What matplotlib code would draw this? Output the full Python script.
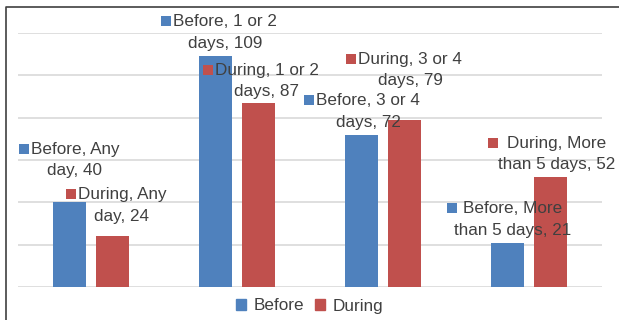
import matplotlib.pyplot as plt
from matplotlib.patches import Patch, Rectangle
from matplotlib.lines import Line2D
import numpy as np

plt.rcParams['font.family'] = ['Liberation Sans', 'DejaVu Sans']

categories = ["Any day", "1 or 2 days", "3 or 4 days", "More than 5 days"]
series = ["Before", "During"]
before = [40, 109, 72, 21]
during = [24, 87, 79, 52]
# how many words of the category stay on the first label line
first_line_words = [1, 3, 3, 1]

colors = {"Before": "#4F81BD", "During": "#C0504D"}
text_color = "#404040"
fsize = 12.3

# label placement: (x offset from category, y of first line, gap before text in px)
label_pos = {
    ("Before", 0): (-0.11, 65.0, 2),
    ("During", 0): (0.212, 43.5, 2),
    ("Before", 1): (-0.082, 125.2, 2),
    ("During", 1): (0.205, 102.5, 2),
    ("Before", 2): (-0.103, 87.9, 2),
    ("During", 2): (0.185, 107.7, 2),
    ("Before", 3): (-0.11, 36.9, 6),
    ("During", 3): (0.192, 68.0, 9),
}

fig = plt.figure(figsize=(6.19, 3.2), dpi=100)
ax = fig.add_axes([18 / 619, 33 / 320, 584 / 619, 254 / 320])

x = np.arange(len(categories))
w = 0.226
off = 0.144
ax.bar(x - off, before, width=w, color=colors["Before"], zorder=2)
ax.bar(x + off, during, width=w, color=colors["During"], zorder=2)

ax.set_xlim(-0.5, 3.5)
ax.set_ylim(0, 120)
ax.set_yticks(np.arange(0, 121, 20))
ax.yaxis.grid(True, color="#D9D9D9", linewidth=1.2)
ax.set_axisbelow(True)
ax.tick_params(left=False, bottom=False, labelleft=False, labelbottom=False)
for s in ax.spines.values():
    s.set_visible(False)

first_lines = []
for name, vals in (("Before", before), ("During", during)):
    for i, (cat, v) in enumerate(zip(categories, vals)):
        words = cat.split()
        l1 = f"{name}, " + " ".join(words[:first_line_words[i]])
        l2 = " ".join(words[first_line_words[i]:]) + f", {v}"
        dx, y1, gap = label_pos[(name, i)]
        t1 = ax.text(i + dx, y1, l1, ha="center", va="center",
                     fontsize=fsize, color=text_color)
        ax.annotate(l2, xy=(i + dx, y1), xytext=(0, -15.2),
                    textcoords="offset points", ha="center", va="center",
                    fontsize=fsize, color=text_color, annotation_clip=False)
        first_lines.append((t1, colors[name], gap))

fig.canvas.draw()
renderer = fig.canvas.get_renderer()
inv = fig.transFigure.inverted()
for t1, c, gap in first_lines:
    bb = t1.get_window_extent(renderer)
    yc = (bb.y0 + bb.y1) / 2 + 0.5
    x0 = bb.x0 - gap - 10
    p0 = inv.transform((x0, yc - 5))
    p1 = inv.transform((x0 + 10, yc + 5))
    fig.patches.append(Rectangle(p0, p1[0] - p0[0], p1[1] - p0[1],
                                 transform=fig.transFigure, color=c,
                                 linewidth=0))

# chart frame (cropped at right and bottom)
fig.add_artist(Line2D([6 / 619, 6 / 619, 1.0], [0.0, 1 - 7 / 320, 1 - 7 / 320],
                      transform=fig.transFigure, color="#404040", linewidth=1.2))

handles = [Patch(color=colors[s]) for s in series]
fig.legend(handles, series, loc="center", bbox_to_anchor=(0.5, 14 / 320),
           ncol=2, frameon=False, fontsize=fsize, labelcolor=text_color,
           handlelength=0.6, handleheight=0.6, handletextpad=0.45,
           columnspacing=0.6, borderpad=0)

fig.savefig("out.png", dpi=100)
